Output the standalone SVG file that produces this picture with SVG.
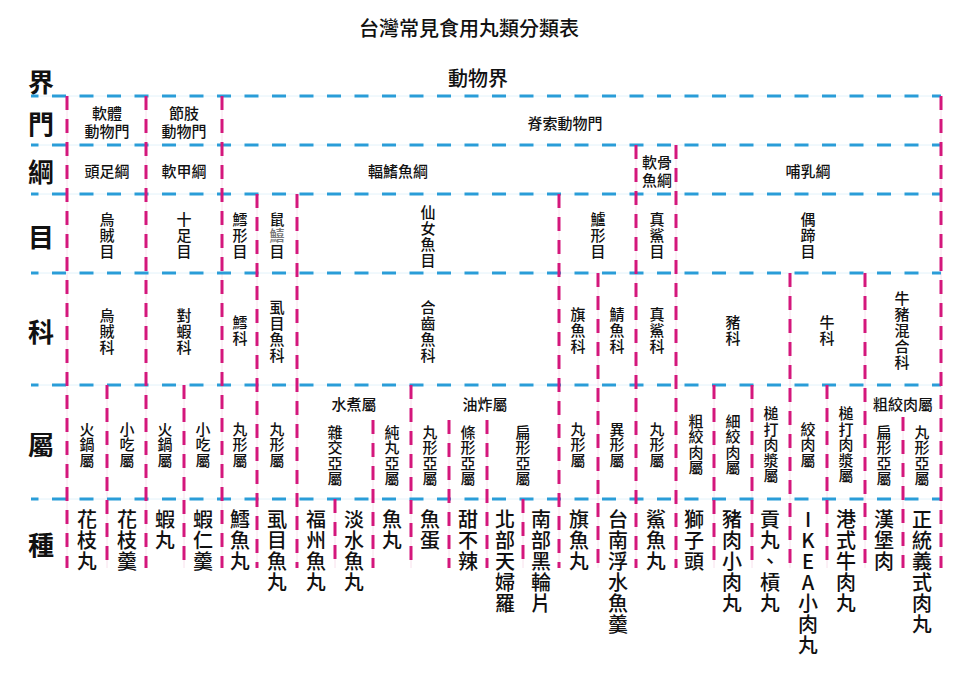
<svg xmlns="http://www.w3.org/2000/svg" width="960" height="678" viewBox="0 0 960 678">
<style>
text{font-family:"Noto Sans CJK TC","Noto Sans CJK SC",sans-serif;fill:#111;text-anchor:middle;dominant-baseline:central}
.t{font-size:20px;font-weight:500}
.h{font-size:26px;font-weight:700}
.s{font-size:15px;font-weight:500}
.sp{font-size:20px;font-weight:500}
.hl{stroke:#2a9dd8;stroke-width:3;stroke-dasharray:14 13.5;stroke-dashoffset:6.5;fill:none}
.vl{stroke:#d4177c;stroke-width:3;stroke-dasharray:14 9;fill:none}
.hf{stroke:#e2f2fa;stroke-width:1}
.vf{stroke:#f8e0ec;stroke-width:1}
</style>
<rect width="960" height="678" fill="#fff"/>
<text class="t" x="469" y="27">台灣常見食用丸類分類表</text>
<g id="row-headers">
<text class="h" x="41" y="80">界</text>
<text class="h" x="41" y="122">門</text>
<text class="h" x="41" y="170">綱</text>
<text class="h" x="41" y="235">目</text>
<text class="h" x="41" y="330">科</text>
<text class="h" x="41" y="443">屬</text>
<text class="h" x="41" y="543">種</text>
</g>
<g id="connectors">
<g class="hf">
<line x1="31" y1="96" x2="941" y2="96"/><line x1="31" y1="145" x2="941" y2="145"/><line x1="31" y1="194" x2="941" y2="194"/><line x1="31" y1="273" x2="941" y2="273"/><line x1="31" y1="385" x2="941" y2="385"/><line x1="31" y1="499" x2="941" y2="499"/>
</g>
<g class="vf">
<line x1="67" y1="96" x2="67" y2="568"/><line x1="107" y1="385" x2="107" y2="568"/><line x1="146" y1="96" x2="146" y2="568"/><line x1="184" y1="385" x2="184" y2="568"/><line x1="222" y1="96" x2="222" y2="568"/><line x1="257" y1="194" x2="257" y2="568"/><line x1="297" y1="194" x2="297" y2="568"/><line x1="335" y1="499" x2="335" y2="568"/><line x1="373" y1="420" x2="373" y2="568"/><line x1="411" y1="385" x2="411" y2="568"/><line x1="449" y1="420" x2="449" y2="568"/><line x1="487" y1="420" x2="487" y2="568"/><line x1="523" y1="499" x2="523" y2="568"/><line x1="559" y1="194" x2="559" y2="568"/><line x1="598" y1="273" x2="598" y2="568"/><line x1="636" y1="145" x2="636" y2="568"/><line x1="676" y1="145" x2="676" y2="568"/><line x1="714" y1="385" x2="714" y2="568"/><line x1="752" y1="385" x2="752" y2="568"/><line x1="790" y1="273" x2="790" y2="568"/><line x1="827" y1="385" x2="827" y2="568"/><line x1="865" y1="273" x2="865" y2="568"/><line x1="903" y1="417" x2="903" y2="568"/><line x1="941" y1="96" x2="941" y2="568"/>
</g>
<g class="hl">
<line x1="31" y1="96" x2="941" y2="96"/><line x1="31" y1="145" x2="941" y2="145"/><line x1="31" y1="194" x2="941" y2="194"/><line x1="31" y1="273" x2="941" y2="273"/><line x1="31" y1="385" x2="941" y2="385"/><line x1="31" y1="499" x2="941" y2="499"/>
</g>
<g class="vl">
<line x1="67" y1="96" x2="67" y2="568"/><line x1="107" y1="385" x2="107" y2="568"/><line x1="146" y1="96" x2="146" y2="568"/><line x1="184" y1="385" x2="184" y2="568"/><line x1="222" y1="96" x2="222" y2="568"/><line x1="257" y1="194" x2="257" y2="568"/><line x1="297" y1="194" x2="297" y2="568"/><line x1="335" y1="499" x2="335" y2="568"/><line x1="373" y1="420" x2="373" y2="568"/><line x1="411" y1="385" x2="411" y2="568"/><line x1="449" y1="420" x2="449" y2="568"/><line x1="487" y1="420" x2="487" y2="568"/><line x1="523" y1="499" x2="523" y2="568"/><line x1="559" y1="194" x2="559" y2="568"/><line x1="598" y1="273" x2="598" y2="568"/><line x1="636" y1="145" x2="636" y2="568"/><line x1="676" y1="145" x2="676" y2="568"/><line x1="714" y1="385" x2="714" y2="568"/><line x1="752" y1="385" x2="752" y2="568"/><line x1="790" y1="273" x2="790" y2="568"/><line x1="827" y1="385" x2="827" y2="568"/><line x1="865" y1="273" x2="865" y2="568"/><line x1="903" y1="417" x2="903" y2="568"/><line x1="941" y1="96" x2="941" y2="568"/>
</g>
</g>
<g id="kingdom"><text class="t" x="478" y="77">動物界</text></g>
<g id="phyla">
<g id="p-mollusca"><text class="s" x="107" y="112">軟體</text><text class="s" x="107" y="130">動物門</text></g>
<g id="p-arthropoda"><text class="s" x="184" y="112">節肢</text><text class="s" x="184" y="130">動物門</text></g>
<g id="p-chordata"><text class="s" x="565" y="122">脊索動物門</text></g>
</g>
<g id="classes">
<g id="c-1"><text class="s" x="107" y="170">頭足綱</text></g>
<g id="c-2"><text class="s" x="184" y="170">軟甲綱</text></g>
<g id="c-3"><text class="s" x="398" y="170">輻鰭魚綱</text></g>
<g id="c-4"><text class="s" x="657" y="161">軟骨</text><text class="s" x="657" y="179">魚綱</text></g>
<g id="c-5"><text class="s" x="808" y="170">哺乳綱</text></g>
</g>
<g id="orders">
<g id="o-1"><text class="s"><tspan x="107" y="218">烏</tspan><tspan x="107" y="234">賊</tspan><tspan x="107" y="250">目</tspan></text></g>
<g id="o-2"><text class="s"><tspan x="184" y="218">十</tspan><tspan x="184" y="234">足</tspan><tspan x="184" y="250">目</tspan></text></g>
<g id="o-3"><text class="s"><tspan x="240" y="218">鱈</tspan><tspan x="240" y="234">形</tspan><tspan x="240" y="250">目</tspan></text></g>
<g id="o-4"><text class="s"><tspan x="277" y="218">鼠</tspan><tspan x="277" y="234" fill="#777">鱚</tspan><tspan x="277" y="250">目</tspan></text></g>
<g id="o-5"><text class="s"><tspan x="428" y="211">仙</tspan><tspan x="428" y="227">女</tspan><tspan x="428" y="243">魚</tspan><tspan x="428" y="259">目</tspan></text></g>
<g id="o-6"><text class="s"><tspan x="598" y="218">鱸</tspan><tspan x="598" y="234">形</tspan><tspan x="598" y="250">目</tspan></text></g>
<g id="o-7"><text class="s"><tspan x="657" y="218">真</tspan><tspan x="657" y="234">鯊</tspan><tspan x="657" y="250">目</tspan></text></g>
<g id="o-8"><text class="s"><tspan x="808" y="218">偶</tspan><tspan x="808" y="234">蹄</tspan><tspan x="808" y="250">目</tspan></text></g>
</g>
<g id="families">
<g id="f-1"><text class="s"><tspan x="107" y="314">烏</tspan><tspan x="107" y="330">賊</tspan><tspan x="107" y="346">科</tspan></text></g>
<g id="f-2"><text class="s"><tspan x="184" y="314">對</tspan><tspan x="184" y="330">蝦</tspan><tspan x="184" y="346">科</tspan></text></g>
<g id="f-3"><text class="s"><tspan x="240" y="321">鱈</tspan><tspan x="240" y="337">科</tspan></text></g>
<g id="f-4"><text class="s"><tspan x="277" y="306">虱</tspan><tspan x="277" y="322">目</tspan><tspan x="277" y="338">魚</tspan><tspan x="277" y="354">科</tspan></text></g>
<g id="f-5"><text class="s"><tspan x="428" y="306">合</tspan><tspan x="428" y="322">齒</tspan><tspan x="428" y="338">魚</tspan><tspan x="428" y="354">科</tspan></text></g>
<g id="f-6"><text class="s"><tspan x="578" y="313">旗</tspan><tspan x="578" y="329">魚</tspan><tspan x="578" y="345">科</tspan></text></g>
<g id="f-7"><text class="s"><tspan x="617" y="313">鯖</tspan><tspan x="617" y="329">魚</tspan><tspan x="617" y="345">科</tspan></text></g>
<g id="f-8"><text class="s"><tspan x="657" y="313">真</tspan><tspan x="657" y="329">鯊</tspan><tspan x="657" y="345">科</tspan></text></g>
<g id="f-9"><text class="s"><tspan x="733" y="321">豬</tspan><tspan x="733" y="337">科</tspan></text></g>
<g id="f-10"><text class="s"><tspan x="827" y="321">牛</tspan><tspan x="827" y="337">科</tspan></text></g>
<g id="f-11"><text class="s"><tspan x="902" y="297">牛</tspan><tspan x="902" y="313">豬</tspan><tspan x="902" y="329">混</tspan><tspan x="902" y="345">合</tspan><tspan x="902" y="361">科</tspan></text></g>
</g>
<g id="genera">
<g id="g-1"><text class="s"><tspan x="87" y="427.5">火</tspan><tspan x="87" y="443">鍋</tspan><tspan x="87" y="458.5">屬</tspan></text></g>
<g id="g-2"><text class="s"><tspan x="127" y="427.5">小</tspan><tspan x="127" y="443">吃</tspan><tspan x="127" y="458.5">屬</tspan></text></g>
<g id="g-3"><text class="s"><tspan x="165" y="427.5">火</tspan><tspan x="165" y="443">鍋</tspan><tspan x="165" y="458.5">屬</tspan></text></g>
<g id="g-4"><text class="s"><tspan x="203" y="427.5">小</tspan><tspan x="203" y="443">吃</tspan><tspan x="203" y="458.5">屬</tspan></text></g>
<g id="g-5"><text class="s"><tspan x="240" y="427.5">丸</tspan><tspan x="240" y="443">形</tspan><tspan x="240" y="458.5">屬</tspan></text></g>
<g id="g-6"><text class="s"><tspan x="277" y="427.5">丸</tspan><tspan x="277" y="443">形</tspan><tspan x="277" y="458.5">屬</tspan></text></g>
<g id="g-7"><text class="s" x="354" y="403">水煮屬</text></g>
<g id="g-7a"><text class="s"><tspan x="335" y="430.75">雜</tspan><tspan x="335" y="446.25">交</tspan><tspan x="335" y="461.75">亞</tspan><tspan x="335" y="477.25">屬</tspan></text></g>
<g id="g-7b"><text class="s"><tspan x="392" y="430.75">純</tspan><tspan x="392" y="446.25">丸</tspan><tspan x="392" y="461.75">亞</tspan><tspan x="392" y="477.25">屬</tspan></text></g>
<g id="g-8"><text class="s" x="485" y="403">油炸屬</text></g>
<g id="g-8a"><text class="s"><tspan x="430" y="430.75">丸</tspan><tspan x="430" y="446.25">形</tspan><tspan x="430" y="461.75">亞</tspan><tspan x="430" y="477.25">屬</tspan></text></g>
<g id="g-8b"><text class="s"><tspan x="468" y="430.75">條</tspan><tspan x="468" y="446.25">形</tspan><tspan x="468" y="461.75">亞</tspan><tspan x="468" y="477.25">屬</tspan></text></g>
<g id="g-8c"><text class="s"><tspan x="523" y="430.75">扁</tspan><tspan x="523" y="446.25">形</tspan><tspan x="523" y="461.75">亞</tspan><tspan x="523" y="477.25">屬</tspan></text></g>
<g id="g-9"><text class="s"><tspan x="578" y="427.5">丸</tspan><tspan x="578" y="443">形</tspan><tspan x="578" y="458.5">屬</tspan></text></g>
<g id="g-10"><text class="s"><tspan x="617" y="427.5">異</tspan><tspan x="617" y="443">形</tspan><tspan x="617" y="458.5">屬</tspan></text></g>
<g id="g-11"><text class="s"><tspan x="657" y="427.5">丸</tspan><tspan x="657" y="443">形</tspan><tspan x="657" y="458.5">屬</tspan></text></g>
<g id="g-12"><text class="s"><tspan x="696" y="419.75">粗</tspan><tspan x="696" y="435.25">絞</tspan><tspan x="696" y="450.75">肉</tspan><tspan x="696" y="466.25">屬</tspan></text></g>
<g id="g-13"><text class="s"><tspan x="733" y="419.75">細</tspan><tspan x="733" y="435.25">絞</tspan><tspan x="733" y="450.75">肉</tspan><tspan x="733" y="466.25">屬</tspan></text></g>
<g id="g-14"><text class="s"><tspan x="771" y="412">槌</tspan><tspan x="771" y="427.5">打</tspan><tspan x="771" y="443">肉</tspan><tspan x="771" y="458.5">漿</tspan><tspan x="771" y="474">屬</tspan></text></g>
<g id="g-15"><text class="s"><tspan x="808" y="427.5">絞</tspan><tspan x="808" y="443">肉</tspan><tspan x="808" y="458.5">屬</tspan></text></g>
<g id="g-16"><text class="s"><tspan x="846" y="412">槌</tspan><tspan x="846" y="427.5">打</tspan><tspan x="846" y="443">肉</tspan><tspan x="846" y="458.5">漿</tspan><tspan x="846" y="474">屬</tspan></text></g>
<g id="g-17"><text class="s" x="903" y="403">粗絞肉屬</text></g>
<g id="g-17a"><text class="s"><tspan x="884" y="430.75">扁</tspan><tspan x="884" y="446.25">形</tspan><tspan x="884" y="461.75">亞</tspan><tspan x="884" y="477.25">屬</tspan></text></g>
<g id="g-17b"><text class="s"><tspan x="922" y="430.75">丸</tspan><tspan x="922" y="446.25">形</tspan><tspan x="922" y="461.75">亞</tspan><tspan x="922" y="477.25">屬</tspan></text></g>
</g>
<g id="species">
<g id="s-1"><text class="sp"><tspan x="87" y="518">花</tspan><tspan x="87" y="539">枝</tspan><tspan x="87" y="560">丸</tspan></text></g>
<g id="s-2"><text class="sp"><tspan x="127" y="518">花</tspan><tspan x="127" y="539">枝</tspan><tspan x="127" y="560">羹</tspan></text></g>
<g id="s-3"><text class="sp"><tspan x="165" y="518">蝦</tspan><tspan x="165" y="539">丸</tspan></text></g>
<g id="s-4"><text class="sp"><tspan x="203" y="518">蝦</tspan><tspan x="203" y="539">仁</tspan><tspan x="203" y="560">羹</tspan></text></g>
<g id="s-5"><text class="sp"><tspan x="240" y="518">鱈</tspan><tspan x="240" y="539">魚</tspan><tspan x="240" y="560">丸</tspan></text></g>
<g id="s-6"><text class="sp"><tspan x="277" y="518">虱</tspan><tspan x="277" y="539">目</tspan><tspan x="277" y="560">魚</tspan><tspan x="277" y="581">丸</tspan></text></g>
<g id="s-7"><text class="sp"><tspan x="316" y="518">福</tspan><tspan x="316" y="539">州</tspan><tspan x="316" y="560">魚</tspan><tspan x="316" y="581">丸</tspan></text></g>
<g id="s-8"><text class="sp"><tspan x="354" y="518">淡</tspan><tspan x="354" y="539">水</tspan><tspan x="354" y="560">魚</tspan><tspan x="354" y="581">丸</tspan></text></g>
<g id="s-9"><text class="sp"><tspan x="392" y="518">魚</tspan><tspan x="392" y="539">丸</tspan></text></g>
<g id="s-10"><text class="sp"><tspan x="430" y="518">魚</tspan><tspan x="430" y="539">蛋</tspan></text></g>
<g id="s-11"><text class="sp"><tspan x="468" y="518">甜</tspan><tspan x="468" y="539">不</tspan><tspan x="468" y="560">辣</tspan></text></g>
<g id="s-12"><text class="sp"><tspan x="505" y="518">北</tspan><tspan x="505" y="539">部</tspan><tspan x="505" y="560">天</tspan><tspan x="505" y="581">婦</tspan><tspan x="505" y="602">羅</tspan></text></g>
<g id="s-13"><text class="sp"><tspan x="541" y="518">南</tspan><tspan x="541" y="539">部</tspan><tspan x="541" y="560">黑</tspan><tspan x="541" y="581">輪</tspan><tspan x="541" y="602">片</tspan></text></g>
<g id="s-14"><text class="sp"><tspan x="579" y="518">旗</tspan><tspan x="579" y="539">魚</tspan><tspan x="579" y="560">丸</tspan></text></g>
<g id="s-15"><text class="sp"><tspan x="618" y="518">台</tspan><tspan x="618" y="539">南</tspan><tspan x="618" y="560">浮</tspan><tspan x="618" y="581">水</tspan><tspan x="618" y="602">魚</tspan><tspan x="618" y="623">羹</tspan></text></g>
<g id="s-16"><text class="sp"><tspan x="656" y="518">鯊</tspan><tspan x="656" y="539">魚</tspan><tspan x="656" y="560">丸</tspan></text></g>
<g id="s-17"><text class="sp"><tspan x="694" y="518">獅</tspan><tspan x="694" y="539">子</tspan><tspan x="694" y="560">頭</tspan></text></g>
<g id="s-18"><text class="sp"><tspan x="732" y="518">豬</tspan><tspan x="732" y="539">肉</tspan><tspan x="732" y="560">小</tspan><tspan x="732" y="581">肉</tspan><tspan x="732" y="602">丸</tspan></text></g>
<g id="s-19"><text class="sp"><tspan x="770" y="518">貢</tspan><tspan x="770" y="539">丸</tspan><tspan x="770" y="560">、</tspan><tspan x="770" y="581">槓</tspan><tspan x="770" y="602">丸</tspan></text></g>
<g id="s-20"><text class="sp"><tspan x="808" y="518">I</tspan><tspan x="808" y="539">K</tspan><tspan x="808" y="560">E</tspan><tspan x="808" y="581">A</tspan><tspan x="808" y="602">小</tspan><tspan x="808" y="623">肉</tspan><tspan x="808" y="644">丸</tspan></text></g>
<g id="s-21"><text class="sp"><tspan x="846" y="518">港</tspan><tspan x="846" y="539">式</tspan><tspan x="846" y="560">牛</tspan><tspan x="846" y="581">肉</tspan><tspan x="846" y="602">丸</tspan></text></g>
<g id="s-22"><text class="sp"><tspan x="884" y="518">漢</tspan><tspan x="884" y="539">堡</tspan><tspan x="884" y="560">肉</tspan></text></g>
<g id="s-23"><text class="sp"><tspan x="922" y="518">正</tspan><tspan x="922" y="539">統</tspan><tspan x="922" y="560">義</tspan><tspan x="922" y="581">式</tspan><tspan x="922" y="602">肉</tspan><tspan x="922" y="623">丸</tspan></text></g>
</g>
</svg>
